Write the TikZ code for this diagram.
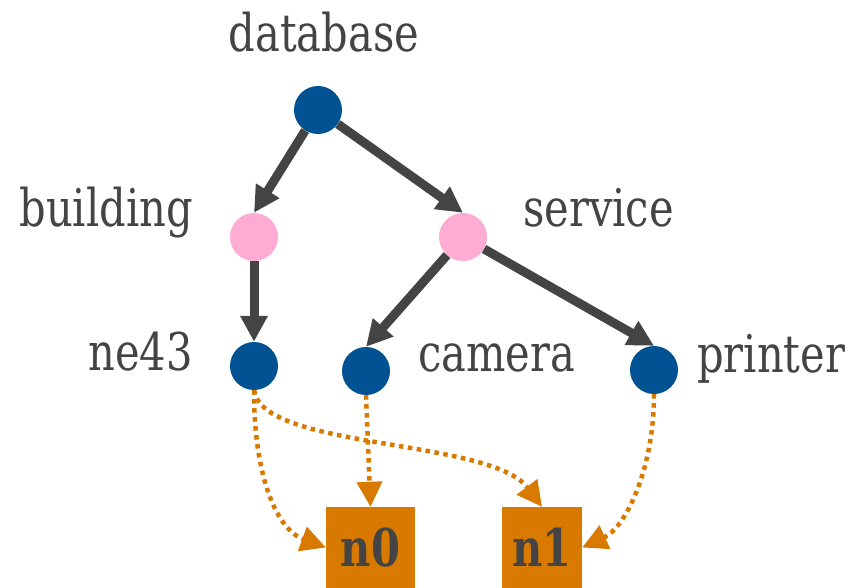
\documentclass[tikz,border=0pt]{standalone}
\usepackage{fontspec}
\setmainfont{DejaVu Serif}[FakeStretch=0.8]
\usetikzlibrary{arrows.meta}
\definecolor{tblue}{HTML}{005293}
\definecolor{tpink}{HTML}{FFACD3}
\definecolor{torange}{HTML}{D87900}
\definecolor{tgrey}{HTML}{444444}
\tikzset{
  dot/.style={circle, minimum size=48pt, inner sep=0pt, draw=none},
  bluedot/.style={dot, fill=tblue},
  pinkdot/.style={dot, fill=tpink},
  lbl/.style={inner sep=0pt, text=tgrey, font=\fontsize{52}{60}\selectfont},
  box/.style={rectangle, fill=torange, inner sep=0pt, text=tgrey, font=\fontsize{52}{60}\selectfont\bfseries},
  edge/.style={draw=tgrey, line width=9pt, -{Triangle[length=26pt,width=26pt]}},
  link/.style={draw=torange, line width=4.5pt, dash pattern=on 4.5pt off 4.5pt, -{Triangle[length=25pt,width=25pt]}}
}
\begin{document}
\begin{tikzpicture}[x=1pt,y=-1pt]
\useasboundingbox (0,0) rectangle (854,588);
% nodes
\node[bluedot] (db) at (318,110) {};
\node[pinkdot] (bu) at (254,237) {};
\node[pinkdot] (sv) at (463,237) {};
\node[bluedot] (ne) at (254,366) {};
\node[bluedot] (ca) at (366,371) {};
\node[bluedot] (pr) at (654,370) {};
\node[box, minimum width=89pt, minimum height=81pt] (n0) at (370.5,547.5) {n0};
\node[box, minimum width=80pt, minimum height=81pt] (n1) at (542,547.5) {n1};
% labels
\node[lbl, anchor=base] (ldb) at (324,52) {database};
\node[lbl, anchor=base east] (lbu) at (193,226) {building};
\node[lbl, anchor=base west] (lsv) at (523,226) {service};
\node[lbl, anchor=base east] (lne) at (193,370) {ne43};
\node[lbl, anchor=base west] (lca) at (418,371) {camera};
\node[lbl, anchor=base west] (lpr) at (697,372) {printer};
% edges
\draw[edge] (db) -- (bu.north);
\draw[edge] (db) -- (sv.north);
\draw[edge] (bu) -- (ne.north);
\draw[edge] (sv) -- (ca.north);
\draw[edge] (sv) -- (pr.north);
% links
\draw[link] (ne.south) .. controls (254,480) and (278,530) .. (n0.west);
\draw[link] (ne.south) .. controls (262,450) and (490,438) .. (n1.north);
\draw[link] (ca.south) -- (n0.north);
\draw[link] (pr.south) .. controls (654,470) and (625,528) .. (n1.east);
\end{tikzpicture}
\end{document}
